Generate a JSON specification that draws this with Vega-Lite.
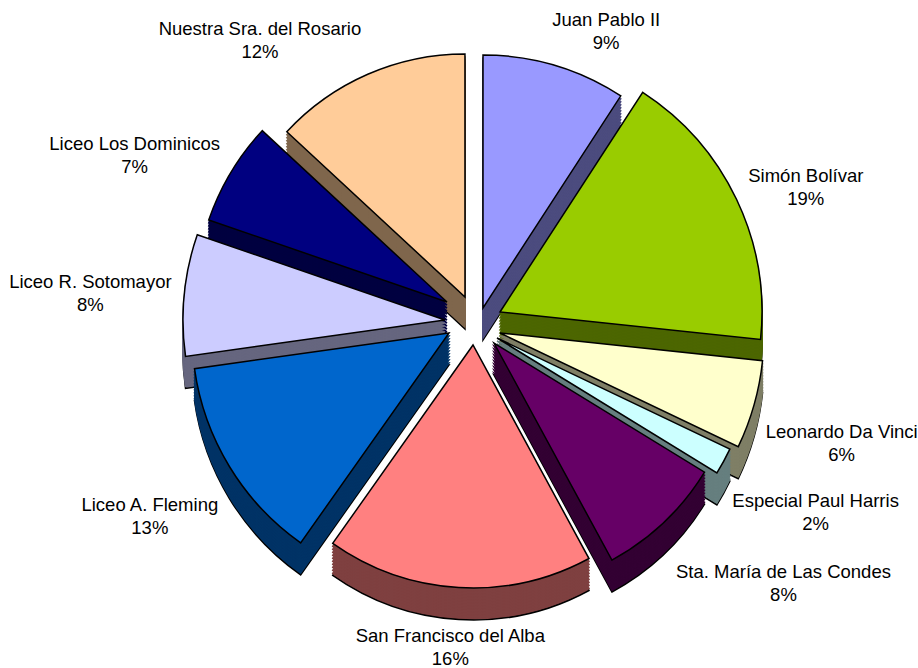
{"$schema":"https://vega.github.io/schema/vega-lite/v6.json","width":918,"height":668,"padding":0,"autosize":{"type":"none"},"background":"white","view":{"stroke":null},
"params":[{"name":"ex","value":{"Juan Pablo II":[24,-26,253,62,-26,"#4c4c7f"],"Simón Bolívar":[41,-22,262,76,-29,"#4c6600"],"Leonardo Da Vinci":[41,-1,264,94,16,"#7f7f66"],"Especial Paul Harris":[38,4,258,93,24,"#667f7f"],"Sta. María de Las Condes":[35,9,247,118,20,"#330033"],"San Francisco del Alba":[14,11,243,9,3,"#7f4040"],"Liceo A. Fleming":[-10,-1,257,-53,15,"#003366"],"Liceo R. Sotomayor":[-14,-14,262,-70,-23,"#66667f"],"Liceo Los Dominicos":[-12,-32,252,-67,-36,"#000040"],"Nuestra Sra. del Rosario":[6,-37,243,-79,-30,"#7f664c"]}}],
"data":{"values":[
{"school":"Juan Pablo II","share":9,"rank":1,"label":"Juan Pablo II|9%"},
{"school":"Simón Bolívar","share":19,"rank":2,"label":"Simón Bolívar|19%"},
{"school":"Leonardo Da Vinci","share":6,"rank":3,"label":"Leonardo Da Vinci|6%"},
{"school":"Especial Paul Harris","share":2,"rank":4,"label":"Especial Paul Harris|2%"},
{"school":"Sta. María de Las Condes","share":8,"rank":5,"label":"Sta. María de Las Condes|8%"},
{"school":"San Francisco del Alba","share":16,"rank":6,"label":"San Francisco del Alba|16%"},
{"school":"Liceo A. Fleming","share":13,"rank":7,"label":"Liceo A. Fleming|13%"},
{"school":"Liceo R. Sotomayor","share":8,"rank":8,"label":"Liceo R. Sotomayor|8%"},
{"school":"Liceo Los Dominicos","share":7,"rank":9,"label":"Liceo Los Dominicos|7%"},
{"school":"Nuestra Sra. del Rosario","share":12,"rank":10,"label":"Nuestra Sra. del Rosario|12%"}]},
"encoding":{"theta":{"field":"share","type":"quantitative","stack":true,"scale":{"domain":[0,9,28,34,36,44,60,73,81,88,100],"range":[0,0.576,1.676,2.016,2.121,2.644,3.757,4.573,5.044,5.46,6.283]}},"order":{"field":"rank","type":"quantitative"},"color":{"field":"school","type":"nominal","legend":null,"scale":{"domain":["Juan Pablo II","Simón Bolívar","Leonardo Da Vinci","Especial Paul Harris","Sta. María de Las Condes","San Francisco del Alba","Liceo A. Fleming","Liceo R. Sotomayor","Liceo Los Dominicos","Nuestra Sra. del Rosario"],"range":["#4c4c7f","#4c6600","#7f7f66","#667f7f","#330033","#7f4040","#003366","#66667f","#000040","#7f664c"]}}},
"layer":[
{"mark":{"type":"arc","stroke":"black","strokeWidth":1.5,"xOffset":{"expr":"ex[datum.school][0]"},"yOffset":{"expr":"ex[datum.school][1]+32"},"outerRadius":{"expr":"ex[datum.school][2]"}}},
{"mark":{"type":"arc","stroke":{"expr":"ex[datum.school][5]"},"strokeWidth":1.5,"xOffset":{"expr":"ex[datum.school][0]"},"yOffset":{"expr":"ex[datum.school][1]+30"},"outerRadius":{"expr":"ex[datum.school][2]"}}},
{"mark":{"type":"arc","stroke":{"expr":"ex[datum.school][5]"},"strokeWidth":1.5,"xOffset":{"expr":"ex[datum.school][0]"},"yOffset":{"expr":"ex[datum.school][1]+27"},"outerRadius":{"expr":"ex[datum.school][2]"}}},
{"mark":{"type":"arc","stroke":{"expr":"ex[datum.school][5]"},"strokeWidth":1.5,"xOffset":{"expr":"ex[datum.school][0]"},"yOffset":{"expr":"ex[datum.school][1]+24"},"outerRadius":{"expr":"ex[datum.school][2]"}}},
{"mark":{"type":"arc","stroke":{"expr":"ex[datum.school][5]"},"strokeWidth":1.5,"xOffset":{"expr":"ex[datum.school][0]"},"yOffset":{"expr":"ex[datum.school][1]+21"},"outerRadius":{"expr":"ex[datum.school][2]"}}},
{"mark":{"type":"arc","stroke":{"expr":"ex[datum.school][5]"},"strokeWidth":1.5,"xOffset":{"expr":"ex[datum.school][0]"},"yOffset":{"expr":"ex[datum.school][1]+18"},"outerRadius":{"expr":"ex[datum.school][2]"}}},
{"mark":{"type":"arc","stroke":{"expr":"ex[datum.school][5]"},"strokeWidth":1.5,"xOffset":{"expr":"ex[datum.school][0]"},"yOffset":{"expr":"ex[datum.school][1]+15"},"outerRadius":{"expr":"ex[datum.school][2]"}}},
{"mark":{"type":"arc","stroke":{"expr":"ex[datum.school][5]"},"strokeWidth":1.5,"xOffset":{"expr":"ex[datum.school][0]"},"yOffset":{"expr":"ex[datum.school][1]+12"},"outerRadius":{"expr":"ex[datum.school][2]"}}},
{"mark":{"type":"arc","stroke":{"expr":"ex[datum.school][5]"},"strokeWidth":1.5,"xOffset":{"expr":"ex[datum.school][0]"},"yOffset":{"expr":"ex[datum.school][1]+9"},"outerRadius":{"expr":"ex[datum.school][2]"}}},
{"mark":{"type":"arc","stroke":{"expr":"ex[datum.school][5]"},"strokeWidth":1.5,"xOffset":{"expr":"ex[datum.school][0]"},"yOffset":{"expr":"ex[datum.school][1]+6"},"outerRadius":{"expr":"ex[datum.school][2]"}}},
{"mark":{"type":"arc","stroke":{"expr":"ex[datum.school][5]"},"strokeWidth":1.5,"xOffset":{"expr":"ex[datum.school][0]"},"yOffset":{"expr":"ex[datum.school][1]+3"},"outerRadius":{"expr":"ex[datum.school][2]"}}},
{"mark":{"type":"arc","stroke":"black","strokeWidth":1.5,"xOffset":{"expr":"ex[datum.school][0]"},"yOffset":{"expr":"ex[datum.school][1]"},"outerRadius":{"expr":"ex[datum.school][2]"}},"encoding":{"color":{"field":"school","type":"nominal","legend":null,"scale":{"domain":["Juan Pablo II","Simón Bolívar","Leonardo Da Vinci","Especial Paul Harris","Sta. María de Las Condes","San Francisco del Alba","Liceo A. Fleming","Liceo R. Sotomayor","Liceo Los Dominicos","Nuestra Sra. del Rosario"],"range":["#9999ff","#99cc00","#ffffcc","#ccffff","#660066","#ff8080","#0066cc","#ccccff","#000080","#ffcc99"]}}}},
{"mark":{"type":"text","font":"Liberation Sans","fontSize":18.5,"fill":"black","lineBreak":"|","lineHeight":23,"baseline":"middle","radius":300,"dx":{"expr":"ex[datum.school][3]"},"dy":{"expr":"ex[datum.school][4]"}},"encoding":{"color":{"value":"black"},"text":{"field":"label","type":"nominal"}}}
],
"resolve":{"scale":{"color":"independent"}}}
